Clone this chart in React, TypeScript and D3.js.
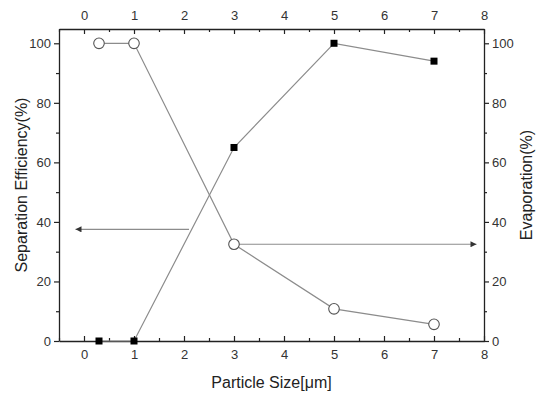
import { useEffect, useRef } from 'react';
import * as d3 from 'd3';

const particleSize = [0.3, 1, 3, 5, 7];
const separationEfficiency = [0, 0, 65, 100, 94];
const evaporation = [100, 100, 32.5, 10.8, 5.6];
const xTicks = [0, 1, 2, 3, 4, 5, 6, 7, 8];
const yTicks = [0, 20, 40, 60, 80, 100];
// arrows pointing to the axis each series belongs to: [fromX, toX, y]
const leftArrow = [2.1, -0.17, 37.5];
const rightArrow = [3.1, 7.85, 32.5];

export default function App() {
  const svgRef = useRef<SVGSVGElement | null>(null);

  useEffect(() => {
    if (!svgRef.current) return;
    const svg = d3.select(svgRef.current);
    svg.selectAll('*').remove();

    const width = 536;
    const height = 395;
    const margin = { top: 29, right: 52, bottom: 54, left: 59 };
    const font = 'Liberation Sans, Arial, sans-serif';
    const lineColor = '#8c8c8c';

    const x = d3.scaleLinear().domain([-0.5, 8]).range([margin.left, width - margin.right]);
    const y = d3.scaleLinear().domain([0, 104.8]).range([height - margin.bottom, margin.top]);

    const minorX = d3.range(-0.5, 8.01, 0.5).filter(v => !xTicks.includes(v));
    const minorY = d3.range(10, 101, 20);

    const axisStyle = (g: d3.Selection<SVGGElement, unknown, null, undefined>) => {
      g.select('.domain').attr('stroke', '#222').attr('stroke-width', 1.3);
      g.selectAll('.tick line').attr('stroke', '#222').attr('stroke-width', 1.2);
      g.selectAll('.tick text')
        .attr('font-family', font)
        .attr('font-size', 13)
        .attr('fill', '#333');
    };

    const addMinor = (g: d3.Selection<SVGGElement, unknown, null, undefined>, axis: d3.Axis<d3.NumberValue>) => {
      g.append('g').call(axis).call(m => {
        m.select('.domain').remove();
        m.selectAll('.tick line').attr('stroke', '#222').attr('stroke-width', 1.1);
        m.selectAll('.tick text').remove();
      });
    };

    // bottom axis
    const gB = svg.append('g').attr('transform', `translate(0,${y(0)})`);
    gB.call(d3.axisBottom(x).tickValues(xTicks).tickSize(-5).tickPadding(9).tickSizeOuter(0).tickFormat(d3.format('d')));
    addMinor(gB, d3.axisBottom(x).tickValues(minorX).tickSize(-3).tickSizeOuter(0));
    axisStyle(gB);

    // top axis
    const gT = svg.append('g').attr('transform', `translate(0,${margin.top})`);
    gT.call(d3.axisTop(x).tickValues(xTicks).tickSize(-5).tickPadding(9).tickSizeOuter(0).tickFormat(d3.format('d')));
    addMinor(gT, d3.axisTop(x).tickValues(minorX).tickSize(-3).tickSizeOuter(0));
    axisStyle(gT);

    // left axis
    const gL = svg.append('g').attr('transform', `translate(${margin.left},0)`);
    gL.call(d3.axisLeft(y).tickValues(yTicks).tickSize(5).tickPadding(3).tickSizeOuter(0));
    addMinor(gL, d3.axisLeft(y).tickValues(minorY).tickSize(3).tickSizeOuter(0));
    axisStyle(gL);

    // right axis
    const gR = svg.append('g').attr('transform', `translate(${width - margin.right},0)`);
    gR.call(d3.axisRight(y).tickValues(yTicks).tickSize(5).tickPadding(3).tickSizeOuter(0));
    addMinor(gR, d3.axisRight(y).tickValues(minorY).tickSize(3).tickSizeOuter(0));
    axisStyle(gR);

    // lines
    const line = d3.line<[number, number]>().x(d => x(d[0])).y(d => y(d[1]));
    const sepPts = particleSize.map((p, i) => [p, separationEfficiency[i]] as [number, number]);
    const evaPts = particleSize.map((p, i) => [p, evaporation[i]] as [number, number]);

    svg.append('path').attr('d', line(sepPts)).attr('fill', 'none').attr('stroke', lineColor).attr('stroke-width', 1.2);
    svg.append('path').attr('d', line(evaPts)).attr('fill', 'none').attr('stroke', lineColor).attr('stroke-width', 1.2);

    // arrows
    const defs = svg.append('defs');
    defs.append('marker')
      .attr('id', 'arrowhead')
      .attr('viewBox', '0 0 10 10')
      .attr('refX', 10).attr('refY', 5)
      .attr('markerWidth', 8).attr('markerHeight', 5)
      .attr('orient', 'auto')
      .append('path').attr('d', 'M0,0L10,5L0,10Z').attr('fill', '#333');

    [leftArrow, rightArrow].forEach(a => {
      svg.append('line')
        .attr('x1', x(a[0])).attr('x2', x(a[1]))
        .attr('y1', y(a[2])).attr('y2', y(a[2]))
        .attr('stroke', lineColor).attr('stroke-width', 1.2)
        .attr('marker-end', 'url(#arrowhead)');
    });

    // markers
    svg.append('g').selectAll('rect').data(sepPts).enter().append('rect')
      .attr('x', d => x(d[0]) - 3.5).attr('y', d => y(d[1]) - 3.5)
      .attr('width', 7).attr('height', 7)
      .attr('fill', '#000');

    svg.append('g').selectAll('circle').data(evaPts).enter().append('circle')
      .attr('cx', d => x(d[0])).attr('cy', d => y(d[1]))
      .attr('r', 5.3)
      .attr('fill', '#fff').attr('stroke', '#555').attr('stroke-width', 1.1);

    // titles
    svg.append('text')
      .attr('x', (margin.left + width - margin.right) / 2).attr('y', 388)
      .attr('text-anchor', 'middle')
      .attr('font-family', font).attr('font-size', 16).attr('fill', '#222')
      .text('Particle Size[μm]');

    svg.append('text')
      .attr('transform', `translate(27,${(y(0) + y(104.8)) / 2}) rotate(-90)`)
      .attr('text-anchor', 'middle')
      .attr('font-family', font).attr('font-size', 16).attr('fill', '#222')
      .text('Separation Efficiency(%)');

    svg.append('text')
      .attr('transform', `translate(532,${(y(0) + y(104.8)) / 2}) rotate(-90)`)
      .attr('text-anchor', 'middle')
      .attr('font-family', font).attr('font-size', 16).attr('fill', '#222')
      .text('Evaporation(%)');
  }, []);

  return (
    <svg
      ref={svgRef}
      width={536}
      height={395}
      style={{ position: 'absolute', left: 0, top: 0, background: '#fff' }}
    />
  );
}
